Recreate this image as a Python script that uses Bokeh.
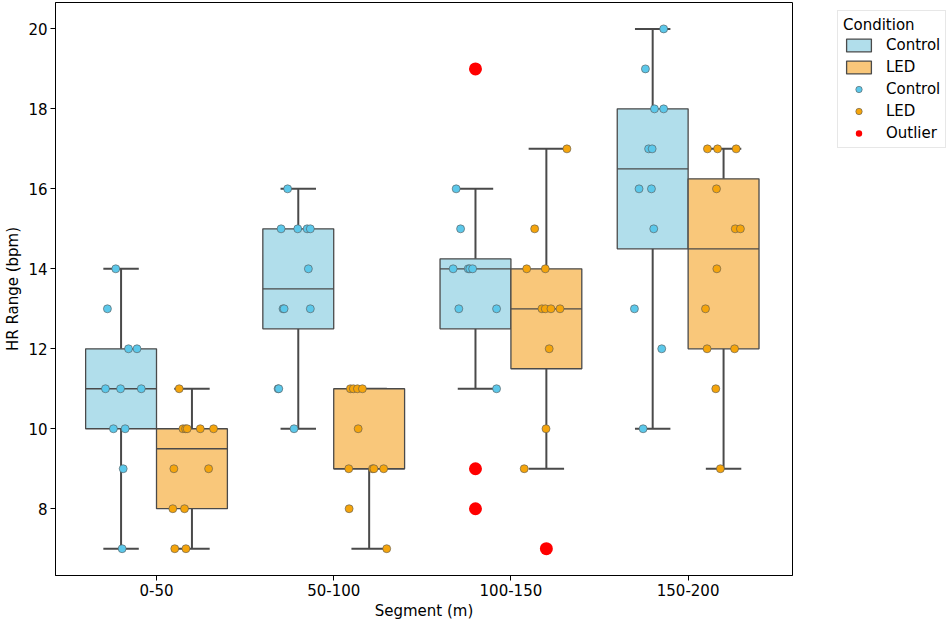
import numpy as np
from bokeh.plotting import figure
from bokeh.models import ColumnDataSource, FixedTicker, Legend, LegendItem, Range1d
from bokeh.embed import file_html
from bokeh.resources import INLINE

segments = ["0-50", "50-100", "100-150", "150-200"]

# HR range of each run (bpm), one list per segment
control_hr = [
    [14, 13, 12, 12, 11, 11, 11, 10, 10, 9, 7],
    [16, 15, 15, 15, 15, 14, 13, 13, 13, 11, 11, 10],
    [19, 16, 15, 14, 14, 14, 14, 13, 13, 11, 9, 8],
    [20, 19, 18, 18, 17, 17, 16, 16, 15, 13, 12, 10],
]
led_hr = [
    [11, 10, 10, 10, 10, 10, 9, 9, 8, 8, 7, 7],
    [11, 11, 11, 11, 10, 9, 9, 9, 9, 8, 7],
    [17, 15, 14, 14, 13, 13, 13, 13, 12, 10, 9, 7],
    [17, 17, 17, 16, 15, 15, 14, 13, 12, 12, 11, 9],
]

# strip jitter of each point
control_jitter = [
    [-0.03, -0.077, 0.042, 0.09, -0.088, -0.003, 0.114, -0.043, 0.023, 0.012, 0.006],
    [-0.06, -0.097, -0.003, 0.05, 0.068, 0.057, -0.086, -0.08, 0.068, -0.114, -0.11, -0.024],
    [0.0, -0.109, -0.084, -0.126, -0.041, -0.032, -0.016, -0.094, 0.119, 0.119, 0.0, 0.0],
    [0.062, -0.041, 0.01, 0.062, -0.023, -0.003, -0.077, -0.007, 0.006, -0.103, 0.051, -0.054],
]
led_jitter = [
    [-0.072, -0.051, -0.036, -0.027, 0.047, 0.122, -0.102, 0.094, -0.108, -0.042, -0.097, -0.034],
    [-0.106, -0.089, -0.066, -0.038, -0.062, -0.115, 0.019, 0.027, 0.082, -0.113, 0.099],
    [0.116, -0.066, -0.111, -0.006, -0.025, -0.006, 0.026, 0.077, 0.016, -0.002, -0.125, 0.0],
    [-0.091, -0.034, 0.071, -0.04, 0.066, 0.095, -0.038, -0.102, -0.093, 0.062, -0.044, -0.018],
]

BOX_FILL = {"Control": "#b1deeb", "LED": "#f9c77a"}
PT_FILL = {"Control": "#5cc8ea", "LED": "#f5a50c"}
EDGE = "#4a4a4a"
FONT = "DejaVu Sans"
FS = "15px"


def build(groups, jitters, offset):
    box = dict(x=[], left=[], right=[], q1=[], q3=[], med=[], lo=[], hi=[])
    pts = dict(x=[], y=[])
    out = dict(x=[], y=[])
    for i, (vals, jit) in enumerate(zip(groups, jitters)):
        v = np.asarray(vals, dtype=float)
        q1, med, q3 = np.percentile(v, [25, 50, 75])
        iqr = q3 - q1
        keep = (v >= q1 - 1.5 * iqr) & (v <= q3 + 1.5 * iqr)
        cx = i + offset
        box["x"].append(cx)
        box["left"].append(cx - 0.2)
        box["right"].append(cx + 0.2)
        box["q1"].append(q1)
        box["q3"].append(q3)
        box["med"].append(med)
        box["lo"].append(v[keep].min())
        box["hi"].append(v[keep].max())
        for val, j, k in zip(v, jit, keep):
            if k:
                pts["x"].append(cx + j)
                pts["y"].append(val)
            else:
                out["x"].append(cx)
                out["y"].append(val)
    box["cap_l"] = [c - 0.1 for c in box["x"]]
    box["cap_r"] = [c + 0.1 for c in box["x"]]
    return ColumnDataSource(box), ColumnDataSource(pts), out


p = figure(frame_width=737, frame_height=573,
           x_range=Range1d(-0.570, 3.589), y_range=Range1d(6.33, 20.66),
           min_border_left=55, min_border_right=156, min_border_top=2, min_border_bottom=45,
           output_backend="svg", toolbar_location=None)

box_r = {}
pts_r = {}
outliers = dict(x=[], y=[])
conds = [("Control", control_hr, control_jitter, -0.2),
         ("LED", led_hr, led_jitter, 0.2)]
for cond, groups, jitters, off in conds:
    bsrc, psrc, out = build(groups, jitters, off)
    outliers["x"] += out["x"]
    outliers["y"] += out["y"]
    # whiskers and caps
    p.segment(x0="x", y0="q3", x1="x", y1="hi", source=bsrc, line_color=EDGE, line_width=2)
    p.segment(x0="x", y0="q1", x1="x", y1="lo", source=bsrc, line_color=EDGE, line_width=2)
    p.segment(x0="cap_l", y0="hi", x1="cap_r", y1="hi", source=bsrc, line_color=EDGE, line_width=2)
    p.segment(x0="cap_l", y0="lo", x1="cap_r", y1="lo", source=bsrc, line_color=EDGE, line_width=2)
    box_r[cond] = p.quad(left="left", right="right", bottom="q1", top="q3", source=bsrc,
                         fill_color=BOX_FILL[cond], line_color=EDGE, line_width=1.3)
    p.segment(x0="left", y0="med", x1="right", y1="med", source=bsrc, line_color=EDGE, line_width=1.3)

for cond, groups, jitters, off in conds:
    _, psrc, _ = build(groups, jitters, off)
    pts_r[cond] = p.scatter("x", "y", source=psrc, size=8, fill_color=PT_FILL[cond],
                            line_color="#555555", line_width=0.6)

out_r = p.scatter(outliers["x"], outliers["y"], size=13, fill_color="red", line_color=None)

# axes in a plain boxed style
p.xgrid.visible = False
p.ygrid.visible = False
p.outline_line_color = "black"
p.outline_line_alpha = 1
p.xaxis.ticker = FixedTicker(ticks=[0, 1, 2, 3])
p.xaxis.major_label_overrides = {i: s for i, s in enumerate(segments)}
p.yaxis.ticker = FixedTicker(ticks=[8, 10, 12, 14, 16, 18, 20])
p.xaxis.axis_label = "Segment (m)"
p.yaxis.axis_label = "HR Range (bpm)"
for ax in (p.xaxis, p.yaxis):
    ax.axis_line_color = "black"
    ax.major_tick_line_color = "black"
    ax.major_tick_out = 5
    ax.major_tick_in = 0
    ax.minor_tick_line_color = None
    ax.major_label_text_font = FONT
    ax.major_label_text_font_size = FS
    ax.major_label_text_color = "black"
    ax.axis_label_text_font = FONT
    ax.axis_label_text_font_size = FS
    ax.axis_label_text_font_style = "normal"
    ax.axis_label_text_color = "black"
p.xaxis.major_label_standoff = 3
p.xaxis.axis_label_standoff = 3
p.yaxis.major_label_standoff = 3
p.yaxis.axis_label_standoff = 3

legend = Legend(items=[
    LegendItem(label="Control", renderers=[box_r["Control"]]),
    LegendItem(label="LED", renderers=[box_r["LED"]]),
    LegendItem(label="Control", renderers=[pts_r["Control"]]),
    LegendItem(label="LED", renderers=[pts_r["LED"]]),
    LegendItem(label="Outlier", renderers=[out_r]),
], title="Condition", location=(45, 427), margin=0, padding=5, spacing=4,
    glyph_width=31, glyph_height=16, label_height=16, label_standoff=12,
    label_text_font=FONT, label_text_font_size=FS, label_text_color="black",
    title_text_font=FONT, title_text_font_size=FS, title_text_font_style="normal",
    title_text_color="black", title_standoff=2,
    border_line_color="#d0d0d0", border_line_width=1,
    background_fill_color="white", background_fill_alpha=1)
p.add_layout(legend, "right")

open("out.html", "w").write(file_html(p, INLINE))
